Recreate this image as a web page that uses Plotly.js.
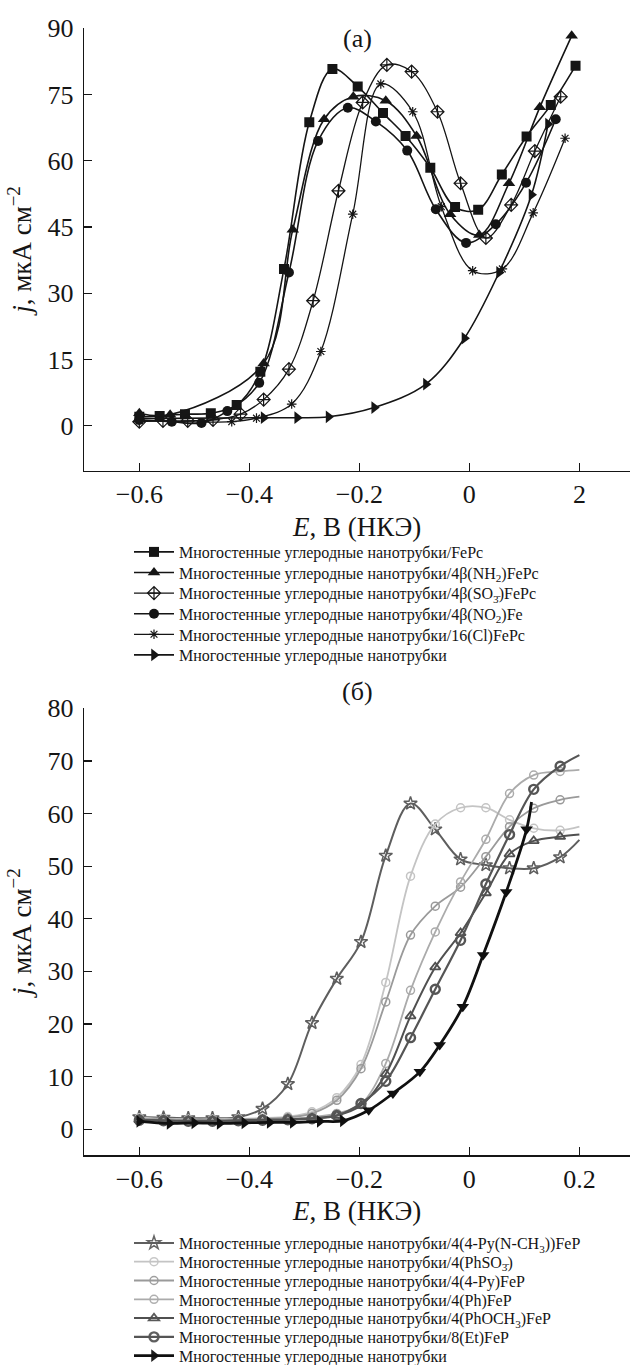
<!DOCTYPE html>
<html><head><meta charset="utf-8">
<script src="https://cdn.plot.ly/plotly-3.0.1.min.js"></script>
<style>html,body{margin:0;padding:0;background:#fff}</style>
</head><body><div id="chart" style="width:630px;height:1365px"></div>
<script>
// ---------- Panel (а) data ----------
const aNames = [
  'Многостенные углеродные нанотрубки/FePc',
  'Многостенные углеродные нанотрубки/4β(NH<sub>2</sub>)FePc',
  'Многостенные углеродные нанотрубки/4β(SO<sub>3̄</sub>)FePc',
  'Многостенные углеродные нанотрубки/4β(NO<sub>2</sub>)Fe',
  'Многостенные углеродные нанотрубки/16(Cl)FePc',
  'Многостенные углеродные нанотрубки'
];
const aFePcX = [-0.6, -0.563, -0.517, -0.470, -0.423, -0.380, -0.337, -0.291, -0.249, -0.203, -0.157, -0.116, -0.071, -0.026, 0.016, 0.059, 0.104, 0.148, 0.193];
const aFePcY = [2.0, 2.2, 2.6, 2.8, 4.7, 12.2, 35.5, 68.7, 80.8, 76.8, 70.8, 65.6, 58.4, 49.5, 48.9, 56.9, 65.5, 72.6, 81.5];
const aNH2X = [-0.6, -0.544, -0.374, -0.321, -0.264, -0.211, -0.152, -0.096, -0.035, 0.018, 0.072, 0.128, 0.186];
const aNH2Y = [2.8, 2.5, 14.1, 44.4, 69.4, 74.5, 73.6, 65.6, 47.9, 43.2, 54.9, 72.1, 88.3];
const aSO3X = [-0.6, -0.557, -0.512, -0.466, -0.416, -0.374, -0.328, -0.284, -0.238, -0.194, -0.150, -0.105, -0.058, -0.016, 0.030, 0.076, 0.119, 0.166];
const aSO3Y = [0.9, 1.1, 1.1, 1.3, 2.6, 5.9, 12.8, 28.3, 53.2, 73.2, 81.7, 80.2, 71.1, 54.9, 42.5, 50.0, 62.2, 74.5];
const aNO2X = [-0.6, -0.541, -0.487, -0.440, -0.382, -0.328, -0.275, -0.221, -0.170, -0.113, -0.061, -0.006, 0.048, 0.103, 0.157];
const aNO2Y = [1.3, 0.9, 0.6, 3.3, 9.7, 34.7, 64.5, 72.0, 68.9, 62.3, 49.0, 41.4, 45.6, 55.0, 69.4];
const aClX = [-0.6, -0.432, -0.387, -0.323, -0.270, -0.212, -0.161, -0.103, -0.051, 0.006, 0.060, 0.116, 0.174];
const aClY = [1.2, 0.9, 1.7, 4.9, 16.8, 47.9, 77.4, 71.1, 49.6, 35.1, 35.5, 48.2, 65.1];
const aCNTX = [-0.6, -0.374, -0.313, -0.256, -0.173, -0.079, -0.009, 0.054, 0.113, 0.143];
const aCNTY = [1.6, 1.8, 1.8, 2.0, 4.1, 9.4, 19.8, 34.7, 52.3, 68.3];
const aTickVals = [-0.6, -0.4, -0.2, 0, 0.2];
const aTickText = ['−0.6', '−0.4', '−0.2', '0', '2'];
const aYTicks = [0, 15, 30, 45, 60, 75, 90];

// ---------- Panel (б) data ----------
const bNames = [
  'Многостенные углеродные нанотрубки/4(4-Py(N-CH<sub>3</sub>))FeP',
  'Многостенные углеродные нанотрубки/4(PhSO<sub>3̄</sub>)',
  'Многостенные углеродные нанотрубки/4(4-Py)FeP',
  'Многостенные углеродные нанотрубки/4(Ph)FeP',
  'Многостенные углеродные нанотрубки/4(PhOCH<sub>3</sub>)FeP',
  'Многостенные углеродные нанотрубки/8(Et)FeP',
  'Многостенные углеродные нанотрубки'
];
const bX = [-0.6, -0.556, -0.511, -0.467, -0.420, -0.376, -0.330, -0.286, -0.241, -0.197, -0.152, -0.107, -0.062, -0.016, 0.030, 0.073, 0.117, 0.165, 0.2];
const bPyCH3Y = [2.3, 2.2, 2.1, 2.1, 2.3, 3.9, 8.6, 20.2, 28.6, 35.6, 52.0, 61.9, 57.0, 51.3, 50.2, 49.6, 49.6, 51.7, 55.0];
const bPhSO3Y = [2.2, 2.0, 1.9, 1.9, 2.0, 2.1, 2.4, 3.3, 6.0, 12.3, 27.9, 48.1, 58.0, 61.1, 61.1, 58.8, 57.2, 56.8, 57.5];
const bPyY    = [2.0, 1.9, 1.8, 1.8, 1.9, 2.0, 2.2, 3.0, 5.5, 11.5, 24.2, 36.9, 42.4, 46.0, 51.8, 57.5, 61.0, 62.6, 63.2];
const bPhY    = [1.9, 1.8, 1.7, 1.7, 1.8, 1.9, 2.0, 2.3, 3.0, 4.8, 12.5, 26.4, 37.5, 47.0, 55.1, 63.8, 67.3, 68.0, 68.3];
const bOCH3Y  = [1.8, 1.7, 1.6, 1.6, 1.7, 1.8, 1.9, 2.1, 2.6, 4.5, 10.5, 21.5, 30.8, 37.3, 44.9, 52.3, 54.8, 55.6, 56.0];
const bEtY    = [1.7, 1.6, 1.5, 1.5, 1.6, 1.7, 1.8, 2.0, 2.6, 4.9, 9.1, 17.4, 26.6, 35.9, 46.6, 56.0, 64.6, 69.0, 71.1];
const bCNTX = [-0.6, -0.545, -0.500, -0.454, -0.409, -0.363, -0.321, -0.272, -0.230, -0.183, -0.139, -0.090, -0.054, -0.012, 0.025, 0.067, 0.104, 0.113];
const bCNTY = [1.5, 1.1, 1.2, 1.1, 1.2, 1.3, 1.3, 1.5, 1.6, 3.6, 6.8, 10.9, 16.0, 23.3, 33.1, 45.1, 57.0, 62.2];
const bTickVals = [-0.6, -0.4, -0.2, 0, 0.2];
const bTickText = ['−0.6', '−0.4', '−0.2', '0', '0.2'];
const bYTicks = [0, 10, 20, 30, 40, 50, 60, 70, 80];

// ---------- styling ----------
const W = 630, H = 1365;
const FONT = '"Liberation Serif", "Times New Roman", serif';
const INK = '#151515';
const LEGFONT = 16;
const aLegRow0 = 552, aLegStep = 20.6;
const bLegRow0 = 1243, bLegStep = 18.8;
const legX = 129;

const aStyles = [
  {sym: 'square', size: 10, color: INK, lw: 1.6},
  {sym: 'triangle-up', size: 11, color: INK, lw: 1.6},
  {sym: 'diamond-cross-open', size: 10, color: INK, lw: 1.3, mlw: 1.2},
  {sym: 'circle', size: 10, color: INK, lw: 1.6},
  {sym: 'asterisk-open', size: 8, color: INK, lw: 1.3, mlw: 1.2},
  {sym: 'triangle-right', size: 11, color: INK, lw: 1.6}
];
const bStyles = [
  {sym: 'star-open', size: 10, color: '#5e5e5e', lw: 2, mlw: 1.5},
  {sym: 'circle-open', size: 8, color: '#c4c4c4', lw: 1.8, mlw: 1.5},
  {sym: 'circle-open', size: 8, color: '#9a9a9a', lw: 1.8, mlw: 1.5},
  {sym: 'circle-open', size: 8, color: '#ababab', lw: 1.8, mlw: 1.5},
  {sym: 'triangle-up-open', size: 9, color: '#505050', lw: 2, mlw: 1.8},
  {sym: 'circle-open', size: 9, color: '#555555', lw: 2.2, mlw: 2.4},
  {sym: 'triangle-right', size: 11, color: '#101010', lw: 2.8, arrowRule: true}
];

const traces = [];
let legendIdx = 0;
const legends = {};
function addTrace(x, y, name, st, xa, ya, rowY, hideLast) {
  legendIdx += 1;
  const lid = legendIdx === 1 ? 'legend' : 'legend' + legendIdx;
  const n = x.length;
  const symbol = st.arrowRule ? x.map(v => v < -0.2 ? 'triangle-right' : 'triangle-down') : st.sym;
  traces.push({
    type: 'scatter', mode: 'lines+markers', x: x, y: y, name: name,
    xaxis: xa, yaxis: ya, legend: lid,
    line: {color: st.color, width: st.lw, shape: 'spline', smoothing: 1},
    marker: {symbol: symbol, size: st.size, color: st.color,
      opacity: hideLast ? x.map((v, i) => i === n - 1 ? 0 : 1) : 1,
      line: {color: st.color, width: st.mlw || 0}},
    hoverinfo: 'x+y+name'
  });
  legends[lid] = {
    x: legX / W, xanchor: 'left', y: 1 - rowY / H, yanchor: 'middle',
    bgcolor: 'rgba(0,0,0,0)', borderwidth: 0, itemwidth: 40,
    font: {family: FONT, size: LEGFONT, color: INK}
  };
}

const aSeries = [[aFePcX, aFePcY], [aNH2X, aNH2Y], [aSO3X, aSO3Y], [aNO2X, aNO2Y], [aClX, aClY], [aCNTX, aCNTY]];
aSeries.forEach((s, i) => addTrace(s[0], s[1], aNames[i], aStyles[i], 'x', 'y', aLegRow0 + i * aLegStep, false));
const bSeries = [[bX, bPyCH3Y], [bX, bPhSO3Y], [bX, bPyY], [bX, bPhY], [bX, bOCH3Y], [bX, bEtY], [bCNTX, bCNTY]];
bSeries.forEach((s, i) => addTrace(s[0], s[1], bNames[i], bStyles[i], 'x2', 'y2', bLegRow0 + i * bLegStep, true));

function xAxis(tv, tt, anchor, range) {
  return {
    domain: [84.3 / W, 1], range: range, anchor: anchor,
    tickmode: 'array', tickvals: tv, ticktext: tt,
    ticks: 'inside', ticklen: 8, tickwidth: 1.2, tickcolor: INK,
    showline: true, linewidth: 1.5, linecolor: INK, mirror: false,
    showgrid: false, zeroline: false,
    tickfont: {family: FONT, size: 26, color: INK},
    title: {text: '<i>E</i>, В (НКЭ)', font: {family: FONT, size: 27, color: INK}, standoff: 8}
  };
}
function yAxis(tv, domain, anchor, range) {
  return {
    domain: domain, range: range, anchor: anchor,
    tickmode: 'array', tickvals: tv,
    ticks: 'inside', ticklen: 8, tickwidth: 1.2, tickcolor: INK,
    showline: true, linewidth: 1.5, linecolor: INK,
    showgrid: false, zeroline: false, ticklabelstandoff: 4,
    tickfont: {family: FONT, size: 26, color: INK},
    title: {text: '<i>j</i>, мкА см<sup>−2</sup>', font: {family: FONT, size: 27, color: INK}, standoff: 8}
  };
}

const layout = Object.assign({
  width: W, height: H,
  margin: {l: 0, r: 0, t: 0, b: 0, autoexpand: false},
  paper_bgcolor: '#fff', plot_bgcolor: '#fff',
  font: {family: FONT, size: LEGFONT, color: INK},
  showlegend: true,
  xaxis: xAxis(aTickVals, aTickText, 'y', [-0.7, 0.292]),
  yaxis: yAxis(aYTicks, [1 - 470.7 / H, 1 - 28.3 / H], 'x', [-10.2, 90]),
  xaxis2: xAxis(bTickVals, bTickText, 'y2', [-0.7, 0.292]),
  yaxis2: yAxis(bYTicks, [1 - 1155 / H, 1 - 708.3 / H], 'x2', [-4.9, 80]),
  annotations: [
    {text: '(а)', xref: 'paper', yref: 'paper', x: 357 / W, y: 1 - 22 / H, showarrow: false, font: {family: FONT, size: 26, color: INK}},
    {text: '(б)', xref: 'paper', yref: 'paper', x: 357 / W, y: 1 - 691 / H, showarrow: false, font: {family: FONT, size: 26, color: INK}}
  ]
}, legends);

Plotly.newPlot('chart', traces, layout, {displayModeBar: false, staticPlot: true});
</script></body></html>
